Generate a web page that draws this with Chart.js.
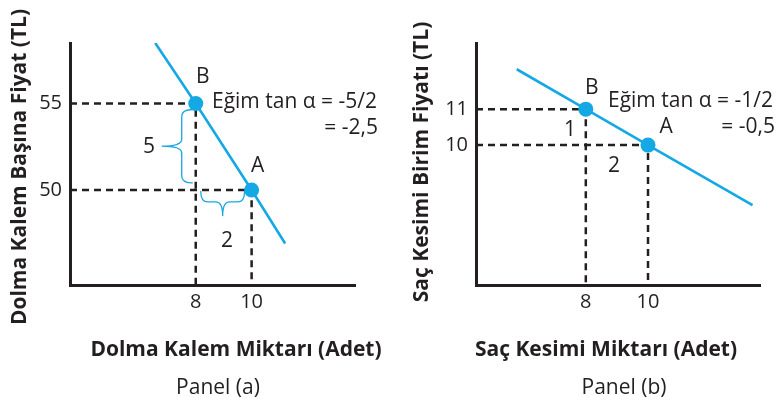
<!DOCTYPE html>
<html lang="tr">
<head>
<meta charset="utf-8">
<title>Eğim</title>
<script src="https://cdn.jsdelivr.net/npm/chart.js@4.4.1/dist/chart.umd.min.js"></script>
<style>
  html, body { margin: 0; padding: 0; background: #ffffff; }
  #wrap { position: relative; width: 780px; height: 402px; overflow: hidden; }
  .panel { position: absolute; top: 0; width: 390px; height: 402px; }
  #pa { left: 0; }
  #pb { left: 390px; }
</style>
</head>
<body>
<div id="wrap">
  <div class="panel" id="pa"><canvas id="ca" width="390" height="402"></canvas></div>
  <div class="panel" id="pb"><canvas id="cb" width="390" height="402"></canvas></div>
</div>
<script>
// ---- Panel (a): dolma kalem ----
const penQty = [8, 10];
const penPrice = [55, 50];
const penPointNames = ['B', 'A'];
const penLineQty = [6.55, 11.2];      // ends of the demand line
const penLinePrice = [58.5, 46.9];
const penRange = { xMin: 3.5, xMax: 13.7, yMin: 44.5, yMax: 58.5 };
const penSlopeText = ['Eğim tan α = -5/2', '= -2,5'];
const penRiseRun = ['5', '2'];
const penTitles = { x: 'Dolma Kalem Miktarı (Adet)', y: 'Dolma Kalem Başına Fiyat (TL)', caption: 'Panel (a)' };

// ---- Panel (b): saç kesimi ----
const cutQty = [8, 10];
const cutPrice = [11, 10];
const cutPointNames = ['B', 'A'];
const cutLineQty = [5.78, 13.36];
const cutLinePrice = [12.11, 8.33];
const cutRange = { xMin: 4.47, xMax: 13.6, yMin: 6.11, yMax: 12.84 };
const cutSlopeText = ['Eğim tan α = -1/2', '= -0,5'];
const cutRiseRun = ['1', '2'];
const cutTitles = { x: 'Saç Kesimi Miktarı (Adet)', y: 'Saç Kesimi Birim Fiyatı (TL)', caption: 'Panel (b)' };

const INK = '#231f20';
const CYAN = '#14a8e4';
const FONT = '"Open Sans", "Noto Sans", sans-serif';

// curly brace from S to E, bulging along unit normal n
function drawBrace(ctx, S, E, n, h, w) {
  const dx = E.x - S.x, dy = E.y - S.y, L = Math.hypot(dx, dy);
  const t = { x: dx / L, y: dy / L };
  const r = Math.min(7, L / 5);
  const P = (b, a, c) => ({ x: b.x + t.x * a + n.x * c, y: b.y + t.y * a + n.y * c });
  const M = { x: (S.x + E.x) / 2, y: (S.y + E.y) / 2 };
  ctx.beginPath();
  ctx.moveTo(S.x, S.y);
  let c = P(S, 0, h), q = P(S, r, h);
  ctx.quadraticCurveTo(c.x, c.y, q.x, q.y);
  q = P(M, -r, h); ctx.lineTo(q.x, q.y);
  c = P(M, 0, h); q = P(M, 0, w);
  ctx.quadraticCurveTo(c.x, c.y, q.x, q.y);
  q = P(M, r, h);
  ctx.quadraticCurveTo(c.x, c.y, q.x, q.y);
  q = P(E, -r, h); ctx.lineTo(q.x, q.y);
  c = P(E, 0, h);
  ctx.quadraticCurveTo(c.x, c.y, E.x, E.y);
  ctx.stroke();
}

function text(ctx, s, x, y, font, align) {
  ctx.font = font;
  ctx.textAlign = align || 'center';
  ctx.textBaseline = 'middle';
  ctx.fillText(s, x, y);
}

function makePanel(id, p) {
  const demand = [
    { x: p.lineQty[0], y: p.linePrice[0] },
    { x: p.qty[0], y: p.price[0] },
    { x: p.qty[1], y: p.price[1] },
    { x: p.lineQty[1], y: p.linePrice[1] }
  ];
  const guides = p.qty.map((q, i) => ({
    type: 'line',
    data: [
      { x: p.range.xMin, y: p.price[i] },
      { x: q, y: p.price[i] },
      { x: q, y: p.range.yMin }
    ],
    borderColor: INK,
    borderWidth: 2.5,
    borderDash: [7, 5],
    pointRadius: 0,
    fill: false,
    order: 3
  }));

  const annot = {
    id: 'annot',
    afterDatasetsDraw(chart) {
      const ctx = chart.ctx, xs = chart.scales.x, ys = chart.scales.y;
      const px = v => xs.getPixelForValue(v), py = v => ys.getPixelForValue(v);
      ctx.save();
      ctx.fillStyle = INK;
      const f = '21px ' + FONT;
      // point names
      text(ctx, p.names[0], px(p.qty[0]) + p.nameOff[0][0], py(p.price[0]) + p.nameOff[0][1], f);
      text(ctx, p.names[1], px(p.qty[1]) + p.nameOff[1][0], py(p.price[1]) + p.nameOff[1][1], f);
      // slope note
      text(ctx, p.slope[0], p.slopePos[0], p.slopePos[1], f, 'left');
      text(ctx, p.slope[1], p.slopePos[2], p.slopePos[1] + 26, f, 'right');
      // rise / run
      text(ctx, p.riseRun[0], p.risePos[0], p.risePos[1], f);
      text(ctx, p.riseRun[1], p.runPos[0], p.runPos[1], f);
      // braces
      if (p.braces) {
        ctx.strokeStyle = CYAN;
        ctx.lineWidth = 1.3;
        const bx = px(p.qty[0]);
        drawBrace(ctx, { x: bx - 3, y: py(p.price[0]) + 6 }, { x: bx - 3, y: py(p.price[1]) - 7 }, { x: -1, y: 0 }, 11, 31);
        drawBrace(ctx, { x: bx + 5, y: py(p.price[1]) + 1 }, { x: px(p.qty[1]) - 7, y: py(p.price[1]) + 1 }, { x: 0, y: 1 }, 11, 25);
      }
      // axis titles and caption
      const bf = 'bold 21px ' + FONT;
      text(ctx, p.titles.x, p.xTitleX, 350, bf);
      ctx.save();
      ctx.translate(p.yTitlePos[0], p.yTitlePos[1]);
      ctx.rotate(-Math.PI / 2);
      text(ctx, p.titles.y, 0, 0, bf);
      ctx.restore();
      text(ctx, p.titles.caption, p.captionX, 388, '21px ' + FONT);
      ctx.restore();
    }
  };

  return new Chart(document.getElementById(id), {
    type: 'scatter',
    data: {
      datasets: [
        {
          type: 'line',
          data: demand,
          borderColor: CYAN,
          borderWidth: 2.6,
          pointRadius: [0, 7.5, 7.5, 0],
          pointBackgroundColor: CYAN,
          pointBorderColor: CYAN,
          pointBorderWidth: 0,
          fill: false,
          order: 1
        },
        ...guides
      ]
    },
    options: {
      responsive: false,
      animation: false,
      events: [],
      layout: { padding: { left: 0, right: p.padRight, top: 43, bottom: 0 } },
      plugins: { legend: { display: false }, tooltip: { enabled: false } },
      scales: {
        x: {
          type: 'linear',
          min: p.range.xMin,
          max: p.range.xMax,
          afterFit(s) { s.height = 117; },
          afterBuildTicks(s) { s.ticks = p.qty.map(v => ({ value: v })); },
          grid: { display: false, drawTicks: false },
          border: { display: true, color: INK, width: 3 },
          ticks: { color: INK, font: { family: FONT, size: 20 }, padding: 5 }
        },
        y: {
          type: 'linear',
          min: p.range.yMin,
          max: p.range.yMax,
          afterFit(s) { s.width = p.yWidth; },
          afterBuildTicks(s) { s.ticks = p.price.map(v => ({ value: v })); },
          grid: { display: false, drawTicks: false },
          border: { display: true, color: INK, width: 3 },
          ticks: { color: INK, font: { family: FONT, size: 20 }, padding: 8 }
        }
      }
    },
    plugins: [annot]
  });
}

makePanel('ca', {
  qty: penQty, price: penPrice, names: penPointNames,
  lineQty: penLineQty, linePrice: penLinePrice, range: penRange,
  slope: penSlopeText, riseRun: penRiseRun, titles: penTitles,
  nameOff: [[7, -26], [6, -24]],
  slopePos: [212, 102, 378],
  risePos: [149, 147], runPos: [227, 241],
  braces: true,
  xTitleX: 236, yTitlePos: [20, 167], captionX: 218,
  padRight: 35, yWidth: 70
});

makePanel('cb', {
  qty: cutQty, price: cutPrice, names: cutPointNames,
  lineQty: cutLineQty, linePrice: cutLinePrice, range: cutRange,
  slope: cutSlopeText, riseRun: cutRiseRun, titles: cutTitles,
  nameOff: [[6, -21], [18, -18]],
  slopePos: [218, 101, 385],
  risePos: [180, 130], runPos: [224, 166],
  braces: false,
  xTitleX: 216, yTitlePos: [32, 162], captionX: 234,
  padRight: 20, yWidth: 86
});
</script>
</body>
</html>
